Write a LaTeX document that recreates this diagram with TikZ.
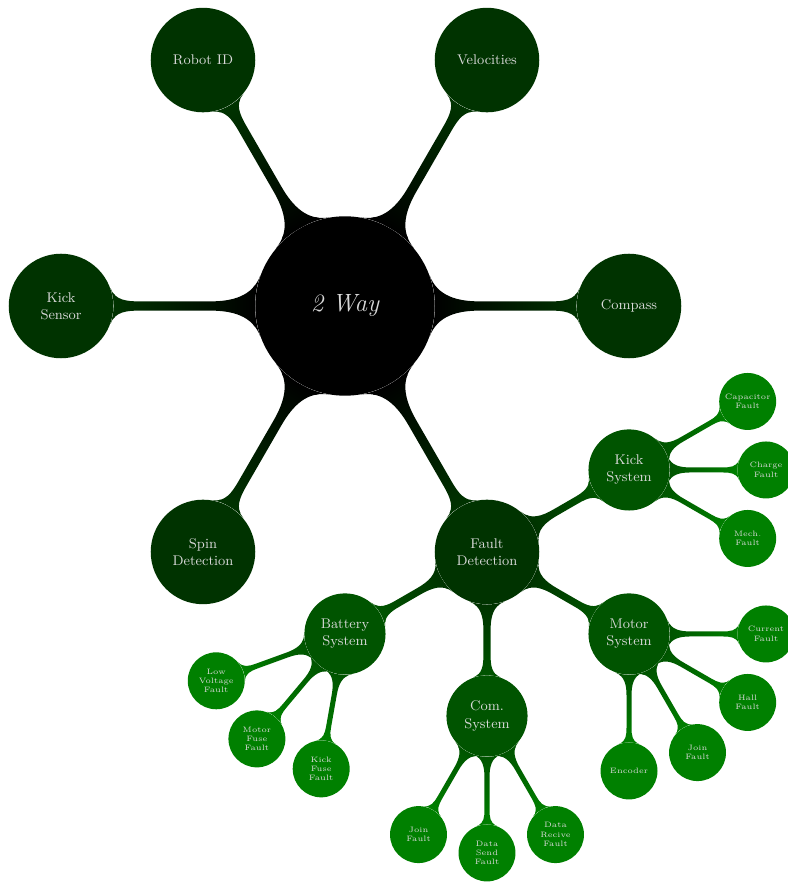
\documentclass[tikz,border=0pt]{standalone}
\usetikzlibrary{mindmap,calc,backgrounds}
\colorlet{cone}{green!20!black}
\colorlet{ctwo}{green!33!black}
\colorlet{cthree}{green!50!black}
\tikzset{
  conceptbase/.style={circle, inner sep=0pt, align=center, text=white!85!black},
  rootc/.style={conceptbase, fill=black, minimum size=115pt, font=\fontsize{16}{19}\selectfont\itshape},
  levone/.style={conceptbase, fill=cone, minimum size=67pt, font=\small},
  levtwo/.style={conceptbase, fill=ctwo, minimum size=52pt, font=\small},
  levthree/.style={conceptbase, fill=cthree, minimum size=36.5pt, font=\tiny},
  barone/.style={line width=6pt},
  bartwo/.style={line width=4.7pt},
  barthree/.style={line width=3pt}
}
\begin{document}
\begin{tikzpicture}[x=0.641pt,y=0.641pt]
\useasboundingbox (0,0) rectangle (788,882);
\node[rootc] (root) at (345,576) {2 Way};
\node[levone] (robot) at ($(root)+(120:284)$) {Robot ID};
\node[levone] (vel) at ($(root)+(60:284)$) {Velocities};
\node[levone] (ksens) at ($(root)+(180:284)$) {Kick\\Sensor};
\node[levone] (comp) at ($(root)+(0:284)$) {Compass};
\node[levone] (spin) at ($(root)+(240:284)$) {Spin\\Detection};
\node[levone] (fault) at ($(root)+(300:284)$) {Fault\\Detection};
\node[levtwo] (ksys) at ($(fault)+(30:164)$) {Kick\\System};
\node[levtwo] (msys) at ($(fault)+(-30:164)$) {Motor\\System};
\node[levtwo] (csys) at ($(fault)+(-90:164)$) {Com.\\System};
\node[levtwo] (bsys) at ($(fault)+(-150:164)$) {Battery\\System};
\node[levthree] (capf) at ($(ksys)+(30:137)$) {Capacitor\\Fault};
\node[levthree] (chgf) at ($(ksys)+(0:137)$) {Charge\\Fault};
\node[levthree] (mechf) at ($(ksys)+(-30:137)$) {Mech.\\Fault};
\node[levthree] (curf) at ($(msys)+(0:137)$) {Current\\Fault};
\node[levthree] (hallf) at ($(msys)+(-30:137)$) {Hall\\Fault};
\node[levthree] (mjoin) at ($(msys)+(-60:137)$) {Join\\Fault};
\node[levthree] (enc) at ($(msys)+(-90:137)$) {Encoder};
\node[levthree] (cjoin) at ($(csys)+(-120:137)$) {Join\\Fault};
\node[levthree] (dsend) at ($(csys)+(-90:137)$) {Data\\Send\\Fault};
\node[levthree] (drec) at ($(csys)+(-60:137)$) {Data\\Recive\\Fault};
\node[levthree] (lowv) at ($(bsys)+(200:137)$) {Low\\Voltage\\Fault};
\node[levthree] (mfuse) at ($(bsys)+(230:137)$) {Motor\\Fuse\\Fault};
\node[levthree] (kfuse) at ($(bsys)+(260:137)$) {Kick\\Fuse\\Fault};
\begin{scope}[on background layer]
\foreach \c in {robot,vel,ksens,comp,spin,fault}
  \path[barone] (root) to[circle connection bar switch color=from (black) to (cone)] (\c);
\foreach \c in {ksys,msys,csys,bsys}
  \path[bartwo] (fault) to[circle connection bar switch color=from (cone) to (ctwo)] (\c);
\foreach \p/\c in {ksys/capf,ksys/chgf,ksys/mechf,msys/curf,msys/hallf,msys/mjoin,msys/enc,csys/cjoin,csys/dsend,csys/drec,bsys/lowv,bsys/mfuse,bsys/kfuse}
  \path[barthree] (\p) to[circle connection bar switch color=from (ctwo) to (cthree)] (\c);
\end{scope}
\end{tikzpicture}
\end{document}
